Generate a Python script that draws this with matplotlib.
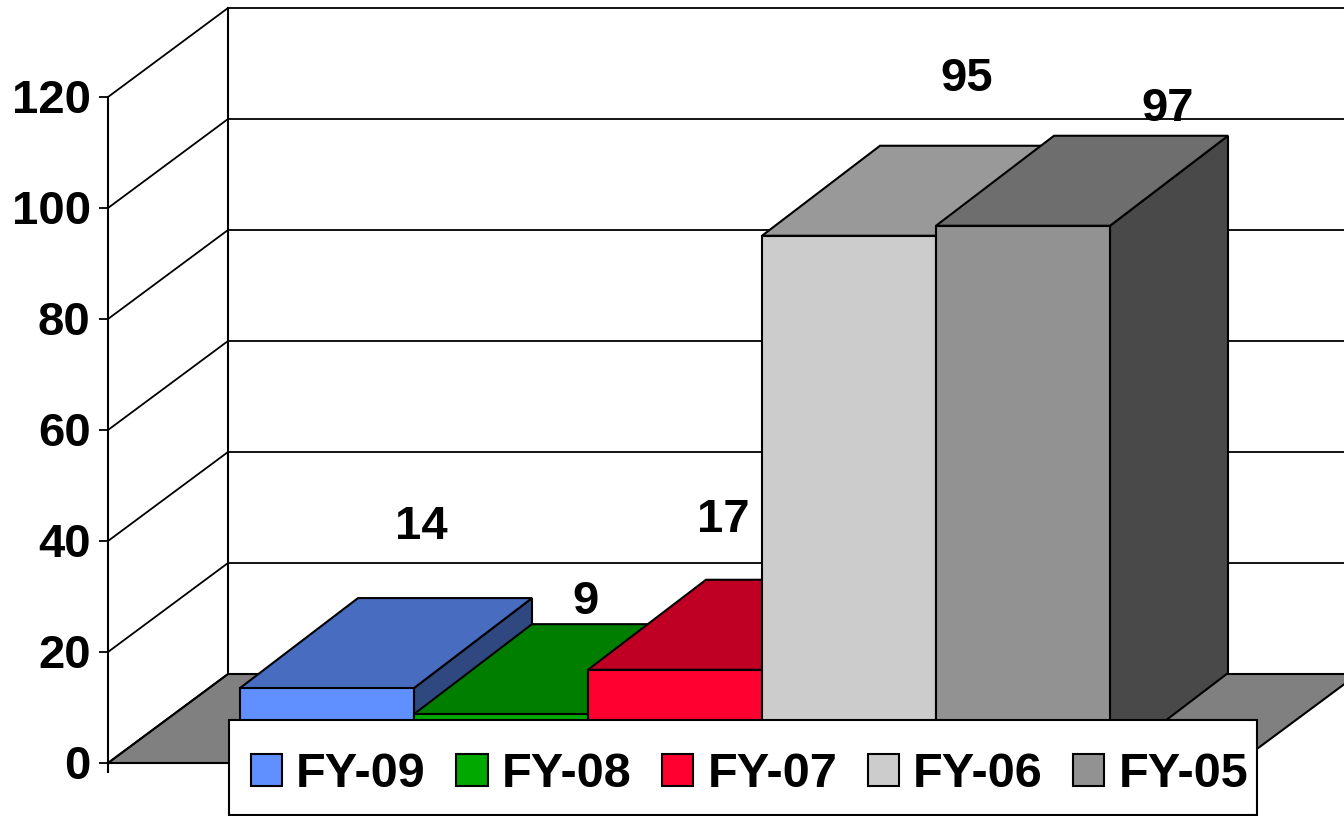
import matplotlib
matplotlib.use('Agg')
import matplotlib.pyplot as plt
from matplotlib.patches import Patch, Rectangle
from matplotlib.transforms import ScaledTranslation

plt.rcParams['font.family'] = ['Liberation Sans', 'DejaVu Sans']
plt.rcParams['font.weight'] = 'bold'

years = ['FY-09', 'FY-08', 'FY-07', 'FY-06', 'FY-05']
values = [13.5, 8.8, 16.8, 95, 96.8]
value_labels = ['14', '9', '17', '95', '97']
colors = ['#6090FF', '#00A800', '#FF0030', '#CCCCCC', '#929292']
y_ticks = [0, 20, 40, 60, 80, 100, 120]

# label offsets from the front top middle of each bar, in points
label_offsets = [(68, 116), (61, 81), (35, 108), (85, 113), (104, 84)]

# fake 3d depth, in data units
bar_dx = 118 / 174
bar_dy = 90 / 5.55
wall_dx = 120 / 174
wall_dy = 89 / 5.55
floor_left = -0.5 - 132 / 174
floor_right = 4.5 + 128 / 174


def shade(color, k):
    rgb = matplotlib.colors.to_rgb(color)
    return tuple(c * k for c in rgb)


fig = plt.figure(figsize=(13.44, 8.16), dpi=100)
ax = fig.add_axes([108 / 1344, 53 / 816, 1236 / 1344, 666 / 816])

# floor
ax.fill([floor_left, floor_left + wall_dx, floor_right + wall_dx, floor_right],
        [0, wall_dy, wall_dy, 0], facecolor='#808080', edgecolor='black',
        linewidth=1.5, clip_on=False, zorder=1)

# walls
for t in y_ticks:
    ax.plot([floor_left, floor_left + wall_dx], [t, t + wall_dy], color='black',
            linewidth=1.3, clip_on=False, zorder=2)
    ax.plot([floor_left + wall_dx, floor_right + wall_dx], [t + wall_dy, t + wall_dy],
            color='black', linewidth=1.3, clip_on=False, zorder=2)
ax.plot([floor_left + wall_dx, floor_left + wall_dx], [wall_dy, 120 + wall_dy],
        color='black', linewidth=1.5, clip_on=False, zorder=2)
ax.plot([floor_left, floor_left], [0, -1.6], color='black', linewidth=1.5,
        clip_on=False, zorder=2)

# bars, left to right so each one covers the side of the one before
for i, (v, c) in enumerate(zip(values, colors)):
    z = 3 + i
    l, r = i - 0.5, i + 0.5
    ax.fill([r, r + bar_dx, r + bar_dx, r], [0, bar_dy, v + bar_dy, v],
            facecolor=shade(c, 0.5), edgecolor='black', linewidth=1.5, clip_on=False, zorder=z)
    ax.fill([l, l + bar_dx, r + bar_dx, r], [v, v + bar_dy, v + bar_dy, v],
            facecolor=shade(c, 0.75), edgecolor='black', linewidth=1.5, clip_on=False, zorder=z)
    ax.bar(i, v, width=1, color=c, edgecolor='black', linewidth=1.5, clip_on=False, zorder=z)
    ax.annotate(value_labels[i], (i, v), xytext=label_offsets[i], textcoords='offset points',
                ha='center', va='center', fontsize=34, fontweight='bold', zorder=20,
                annotation_clip=False)

ax.set_xlim(floor_left, floor_left + 1236 / 174)
ax.set_ylim(0, 120)
ax.set_xticks([])
ax.set_yticks(y_ticks)
ax.tick_params(axis='y', length=6.5, width=1.3, pad=6, labelsize=34)
shift_up = ScaledTranslation(0, 0.8 / 72, fig.dpi_scale_trans)
for label in ax.get_yticklabels():
    label.set_transform(label.get_transform() + shift_up)
for name in ['top', 'right', 'bottom']:
    ax.spines[name].set_visible(False)
ax.spines['left'].set_linewidth(1.5)
ax.spines['left'].set_zorder(2)
ax.patch.set_alpha(0)

# legend box is drawn apart, the original has less padding on its right side
ax.add_patch(Rectangle((229 / 1344, 1 / 816), 1028 / 1344, 95 / 816, transform=fig.transFigure,
                       facecolor='white', edgecolor='black', linewidth=1.5,
                       clip_on=False, zorder=29))
handles = [Patch(facecolor=c, edgecolor='black', linewidth=1.5) for c in colors]
leg = ax.legend(handles, years, ncol=5, loc='lower left',
                bbox_to_anchor=(251 / 1344, 19 / 816), bbox_transform=fig.transFigure,
                fontsize=35, frameon=False, borderaxespad=0, borderpad=0,
                handlelength=0.64, handleheight=0.64, handletextpad=0.29,
                columnspacing=0.63, labelspacing=0)
leg.set_zorder(30)

fig.savefig('out.png', dpi=100)
